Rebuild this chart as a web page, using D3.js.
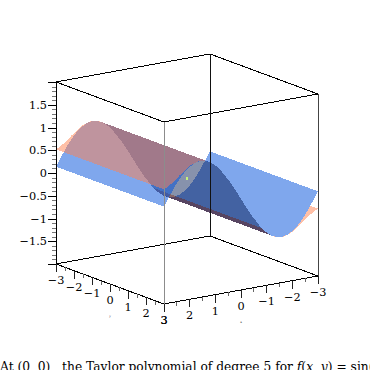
<!DOCTYPE html>
<html>
<head>
<meta charset="utf-8">
<script src="https://cdn.jsdelivr.net/npm/d3@7"></script>
<style>
    html, body { margin: 0; padding: 0; background: #fff; overflow: hidden; }
    text { font-family: "DejaVu Serif", serif; fill: #000; }
</style>
</head>
<body>
<svg id="chart" width="370" height="370"></svg>
<script>
// Grid along x, values
const xValues = [-3, -2.8, -2.6, -2.4, -2.2, -2, -1.8, -1.6, -1.4, -1.2, -1, -0.8, -0.6, -0.4, -0.2, 0,
    0.2, 0.4, 0.6, 0.8, 1, 1.2, 1.4, 1.6, 1.8, 2, 2.2, 2.4, 2.6, 2.8, 3];
const yValues = [-3, -2.5, -2, -1.5, -1, -0.5, 0, 0.5, 1, 1.5, 2, 2.5, 3];
const functionZ = [-0.14, -0.33, -0.52, -0.68, -0.81, -0.91, -0.97, -1, -0.98, -0.93, -0.84, -0.72, -0.56, -0.39, -0.2, 0,
    0.2, 0.39, 0.56, 0.72, 0.84, 0.93, 0.98, 1, 0.97, 0.91, 0.81, 0.68, 0.52, 0.33, 0.14];
const taylorZ = [-0.52, -0.58, -0.66, -0.76, -0.85, -0.93, -0.98, -1, -0.99, -0.93, -0.84, -0.72, -0.56, -0.39, -0.2, 0,
    0.2, 0.39, 0.56, 0.72, 0.84, 0.93, 0.99, 1, 0.98, 0.93, 0.85, 0.76, 0.66, 0.58, 0.52];

const groundTicks = [-3, -2.5, -2, -1.5, -1, -0.5, 0, 0.5, 1, 1.5, 2, 2.5, 3];
const groundLabels = [-3, -2, -1, 0, 1, 2, 3];
const zMajorTicks = [-2, -1.5, -1, -0.5, 0, 0.5, 1, 1.5, 2];
const zLabels = [-1.5, -1, -0.5, 0, 0.5, 1, 1.5];
const caption = "At (0, 0) , the Taylor polynomial of degree 5 for ";

const svg = d3.select("#chart");

// Oblique projection of the box, each axis has its own pair of pixel scales
const xToPx = d3.scaleLinear().domain([3, -3]).range([0, 154]);
const xToPy = d3.scaleLinear().domain([3, -3]).range([0, -28]);
const yToPx = d3.scaleLinear().domain([3, -3]).range([0, -108]);
const yToPy = d3.scaleLinear().domain([3, -3]).range([0, -40]);
const zToPy = d3.scaleLinear().domain([-2, 2]).range([0, -182]);
const origin = {x: 164, y: 304};

const project = (x, y, z) => [
    origin.x + xToPx(x) + yToPx(y),
    origin.y + xToPy(x) + yToPy(y) + zToPy(z)
];
// Distance towards the viewer, for back to front drawing
const depth = (x, y, z) => x + 1.426 * y + 0.312 * z;

// Cells of one surface between two x limits
const surfaceCells = (zs, xMin, xMax) => {
    const cells = [];
    for (let i = 0; i < xValues.length - 1; i++) {
        const x0 = xValues[i], x1 = xValues[i + 1];
        if (x0 < xMin || x1 > xMax) continue;
        for (let j = 0; j < yValues.length - 1; j++) {
            const y0 = yValues[j], y1 = yValues[j + 1];
            cells.push({
                x: (x0 + x1) / 2,
                depth: depth((x0 + x1) / 2, (y0 + y1) / 2, (zs[i] + zs[i + 1]) / 2),
                points: [
                    project(x0, y0, zs[i]),
                    project(x1, y0, zs[i + 1]),
                    project(x1, y1, zs[i + 1]),
                    project(x0, y1, zs[i])
                ]
            });
        }
    }
    return cells.sort((a, b) => d3.ascending(a.depth, b.depth));
};

const drawCells = (cells, fill, opacity) => {
    svg.append("g")
        .selectAll("polygon")
        .data(cells)
        .enter()
        .append("polygon")
        .attr("points", (d) => d.points.join(" "))
        .attr("fill", fill)
        .attr("fill-opacity", opacity)
        .attr("shape-rendering", "crispEdges");
};

const blue = "#0050dc", peach = "#ff8250", underside = "#00164e", fringe = "#510b01";
// Silhouette folds of the surface for this view direction
const ridge = 1.2, trough = -1.2;

// Far rising slope: the blue hides the peach under it
drawCells(surfaceCells(taylorZ, -3, trough), peach, 0.5);
drawCells(surfaceCells(functionZ, -3, trough), "#fff", 1);
drawCells(surfaceCells(functionZ, -3, trough), blue, 0.5);

// Slope between the folds, seen from below
drawCells(surfaceCells(functionZ, trough, ridge), underside, 0.27);
const taylorBack = surfaceCells(taylorZ, trough, ridge);
drawCells(taylorBack.filter((d) => d.x > -0.8), underside, 0.27);
drawCells(taylorBack.filter((d) => d.x <= -0.8), fringe, 0.5);

// Near slope, peach lies on top of blue
drawCells(surfaceCells(functionZ, ridge, 3), blue, 0.5);
drawCells(surfaceCells(taylorZ, ridge, 3), peach, 0.5);

// Expansion point at the origin
const pointXY = project(0, 0, 0);
svg.append("rect")
    .attr("x", pointXY[0] - 1)
    .attr("y", pointXY[1] - 2)
    .attr("width", 2)
    .attr("height", 3)
    .attr("fill", "#c4f27a");

// Box
const edges = [
    [[3, -3, 2], [3, 3, 2], "#000"], [[3, 3, 2], [-3, 3, 2], "#000"],
    [[-3, 3, 2], [-3, -3, 2], "#000"], [[-3, -3, 2], [3, -3, 2], "#000"],
    [[3, -3, -2], [3, 3, -2], "#000"], [[3, 3, -2], [-3, 3, -2], "#000"],
    [[-3, 3, -2], [-3, -3, -2], "#000"], [[-3, -3, -2], [3, -3, -2], "#000"],
    [[3, -3, -2], [3, -3, 2], "#000"], [[3, 3, -2], [3, 3, 2], "#8c8c8c"],
    [[-3, 3, -2], [-3, 3, 2], "#444"], [[-3, -3, -2], [-3, -3, 2], "#111"]
];
const edgeLine = d3.line();
svg.append("g")
    .selectAll("path")
    .data(edges)
    .enter()
    .append("path")
    .attr("d", (d) => edgeLine([project(...d[0]), project(...d[1])]))
    .attr("fill", "none")
    .attr("stroke", (d) => d[2])
    .attr("stroke-width", 1)
    .attr("shape-rendering", "crispEdges");

// z axis on the left edge
const zScale = d3.scaleLinear().domain([-2, 2]).range([264, 82]);
svg.append("g")
    .attr("transform", "translate(56, 0)")
    .call(d3.axisLeft(zScale).tickValues(d3.range(-20, 21).map((d) => d / 10)).tickSize(4).tickFormat(""))
    .call((g) => g.select(".domain").remove())
    .call((g) => g.selectAll("line").attr("stroke", "#777").attr("shape-rendering", "crispEdges"));
svg.append("g")
    .attr("transform", "translate(56, 0)")
    .call(d3.axisLeft(zScale).tickValues(zMajorTicks).tickSize(8).tickFormat(""))
    .call((g) => g.select(".domain").remove())
    .call((g) => g.selectAll("line").attr("shape-rendering", "crispEdges"));
svg.append("g")
    .selectAll("text")
    .data(zLabels)
    .enter()
    .append("text")
    .attr("x", 47)
    .attr("y", (d) => zScale(d) + 4)
    .attr("text-anchor", "end")
    .style("font-size", "11.3px")
    .text((d) => d3.format("~g")(d));

// Ground axes, ticks hang below the front bottom edges
const groundAxis = (toPoint, name, namePos) => {
    const g = svg.append("g");
    g.selectAll("line")
        .data(groundTicks)
        .enter()
        .append("line")
        .attr("x1", (d) => toPoint(d)[0])
        .attr("x2", (d) => toPoint(d)[0])
        .attr("y1", (d) => toPoint(d)[1])
        .attr("y2", (d) => toPoint(d)[1] + (Number.isInteger(d) ? 8 : 4))
        .attr("stroke", (d) => Number.isInteger(d) ? "#222" : "#666")
        .attr("shape-rendering", "crispEdges");
    g.selectAll("text.tick")
        .data(groundLabels)
        .enter()
        .append("text")
        .attr("class", "tick")
        .attr("x", (d) => toPoint(d)[0])
        .attr("y", (d) => toPoint(d)[1] + 20)
        .attr("text-anchor", "middle")
        .style("font-size", "11.3px")
        .text((d) => d3.format("~g")(d));
    g.append("text")
        .attr("x", namePos[0])
        .attr("y", namePos[1])
        .attr("text-anchor", "middle")
        .style("font-size", "3px")
        .text(name);
};
groundAxis((d) => project(3, d, -2), "y", [110, 317]);
groundAxis((d) => project(d, 3, -2), "x", [241, 323]);

// Caption runs off the page
const captionText = svg.append("text")
    .attr("x", 0)
    .attr("y", 371)
    .style("font-size", "12.25px")
    .text(caption);
captionText.append("tspan").style("font-style", "italic").text("f");
captionText.append("tspan").text("(");
captionText.append("tspan").style("font-style", "italic").text("x");
captionText.append("tspan").text(", ");
captionText.append("tspan").style("font-style", "italic").text("y");
captionText.append("tspan").text(") = sin(x)");
</script>
</body>
</html>
